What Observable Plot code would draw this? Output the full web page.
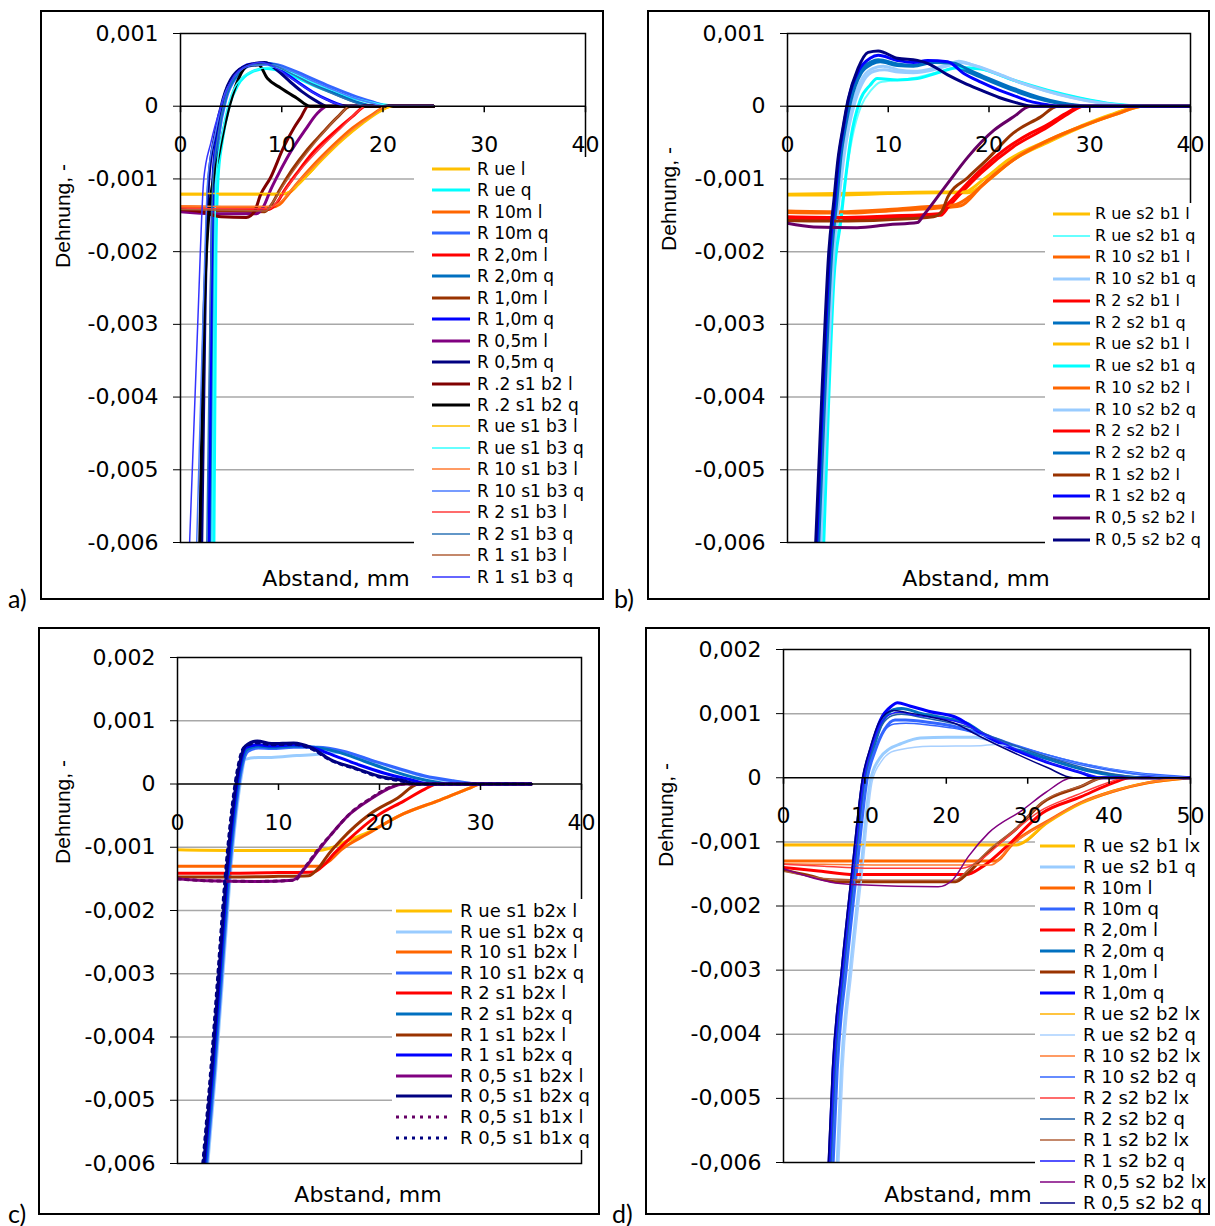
<!DOCTYPE html>
<html><head><meta charset="utf-8">
<script src="https://cdn.jsdelivr.net/npm/d3@7"></script>
<script src="https://cdn.jsdelivr.net/npm/@observablehq/plot@0.6"></script>
<style>
body{margin:0;background:#fff}
#page{position:relative;width:1215px;height:1226px;overflow:hidden;background:#fff}
</style></head>
<body><div id="page"></div>
<script>
// ---------- tick values ----------
const X_TICKS_40 = [0, 10, 20, 30, 40];
const X_TICKS_50 = [0, 10, 20, 30, 40, 50];
const Y_TICKS_AB = [0.001, 0, -0.001, -0.002, -0.003, -0.004, -0.005, -0.006];
const Y_TICKS_CD = [0.002, 0.001, 0, -0.001, -0.002, -0.003, -0.004, -0.005, -0.006];
const X_TITLE = "Abstand, mm";
const Y_TITLE = "Dehnung, -";

// ---------- panel a) : points are [Abstand mm, Dehnung in 1e-3] ----------
const A_NAMES = ["R ue l","R ue q","R 10m l","R 10m q","R 2,0m l","R 2,0m q","R 1,0m l","R 1,0m q","R 0,5m l","R 0,5m q","R .2 s1 b2 l","R .2 s1 b2 q","R ue s1 b3 l","R ue s1 b3 q","R 10 s1 b3 l","R 10 s1 b3 q","R 2 s1 b3 l","R 2 s1 b3 q","R 1 s1 b3 l","R 1 s1 b3 q"];
const A_POINTS = [
 [[0,-1.21],[5,-1.21],[10,-1.21],[10.8,-1.18],[11.6,-1.08],[12.5,-0.95],[14,-0.73],[16,-0.46],[18,-0.23],[19.8,-0.06],[20.8,0],[25,0]],
 [[3.3,-6],[3.4,-4],[3.5,-2],[3.7,-1],[4.1,-0.5],[4.8,0],[5.7,0.3],[7,0.47],[8.5,0.52],[10,0.48],[12,0.36],[14,0.24],[16,0.15],[18,0.08],[20,0.02],[21.3,0],[25,0]],
 [[0,-1.38],[5,-1.39],[9,-1.39],[9.8,-1.35],[10.6,-1.22],[11.6,-1.05],[13,-0.83],[15,-0.55],[17,-0.3],[19,-0.11],[20.5,0],[25,0]],
 [[3,-6],[3.2,-3],[3.4,-1],[3.8,-0.4],[4.5,0.1],[5.5,0.4],[7,0.56],[9,0.58],[11,0.5],[13,0.38],[15,0.26],[17,0.15],[19,0.06],[20.5,0],[25,0]],
 [[0,-1.42],[5,-1.42],[8.6,-1.42],[9.4,-1.35],[10.3,-1.15],[11.5,-0.92],[13,-0.65],[15,-0.38],[17,-0.14],[18.3,0],[25,0]],
 [[2.9,-6],[3.1,-3],[3.3,-1],[3.7,-0.4],[4.4,0.1],[5.4,0.4],[7,0.57],[8.5,0.59],[10.5,0.5],[12.5,0.36],[14.5,0.22],[16.5,0.1],[18.3,0.02],[19,0],[25,0]],
 [[0,-1.43],[5,-1.44],[8.3,-1.45],[9,-1.35],[9.8,-1.15],[11,-0.88],[12.5,-0.6],[14,-0.37],[15.5,-0.15],[16.8,0],[25,0]],
 [[2.8,-6],[3,-3],[3.2,-1],[3.6,-0.4],[4.3,0.12],[5.3,0.42],[7,0.58],[8.5,0.59],[10,0.48],[11.5,0.34],[13,0.2],[14.5,0.09],[16,0.01],[16.5,0],[25,0]],
 [[0,-1.45],[4,-1.48],[7.5,-1.48],[8.2,-1.38],[8.9,-1.15],[9.8,-0.9],[11,-0.6],[12.3,-0.33],[13.5,-0.1],[14.5,0],[25,0]],
 [[2.1,-6],[2.4,-3],[2.8,-1],[3.4,-0.4],[4.2,0.1],[5.2,0.42],[6.8,0.57],[8.3,0.6],[9.5,0.5],[10.8,0.34],[12,0.2],[13.3,0.08],[14.5,0],[25,0]],
 [[0,-1.42],[2,-1.45],[4,-1.52],[6.5,-1.53],[7.3,-1.45],[7.9,-1.22],[8.9,-0.98],[10.2,-0.56],[11.2,-0.3],[11.9,-0.15],[12.6,0],[25,0]],
 [[1.9,-6],[2.3,-3],[2.8,-1.5],[3.8,-0.65],[4.4,-0.24],[5.4,0.26],[6.7,0.56],[7.7,0.57],[8.6,0.38],[9.9,0.25],[11.5,0.11],[12.8,0],[25,0]],
 [[0,-1.2],[5,-1.2],[10.2,-1.2],[11,-1.15],[11.8,-1.05],[12.8,-0.92],[14.2,-0.7],[16.2,-0.44],[18.2,-0.21],[20,-0.05],[21,0],[25,0]],
 [[3.1,-6],[3.3,-3],[3.5,-1],[4.2,-0.3],[5,0.15],[6,0.38],[7.5,0.5],[9,0.54],[11,0.46],[13,0.33],[15,0.22],[17,0.12],[19,0.05],[21,0],[25,0]],
 [[0,-1.37],[5,-1.38],[9,-1.38],[10,-1.3],[11.5,-1.06],[13,-0.85],[15,-0.57],[17,-0.32],[19,-0.12],[20.3,0],[25,0]],
 [[1.6,-6],[2.2,-3],[2.7,-1],[3.4,-0.4],[4.2,0.1],[5.3,0.4],[7,0.56],[9,0.57],[11,0.48],[13,0.35],[15,0.23],[17,0.12],[19,0.04],[20.2,0],[25,0]],
 [[0,-1.4],[5,-1.41],[8.8,-1.41],[9.6,-1.3],[10.6,-1.1],[12,-0.85],[14,-0.55],[16,-0.28],[17.6,-0.06],[18.2,0],[25,0]],
 [[2.6,-6],[2.9,-3],[3.2,-1],[3.7,-0.4],[4.4,0.1],[5.4,0.42],[7,0.57],[8.5,0.58],[10.5,0.48],[12.5,0.33],[14.5,0.2],[16.5,0.09],[18.5,0],[25,0]],
 [[0,-1.42],[5,-1.43],[8.4,-1.44],[9.2,-1.3],[10.2,-1.08],[11.5,-0.82],[13,-0.55],[14.5,-0.3],[16,-0.08],[16.6,0],[25,0]],
 [[0.9,-6],[1.7,-3],[2.3,-1],[3,-0.5],[4,0],[5,0.35],[6.5,0.55],[8,0.6],[9.5,0.52],[11,0.38],[12.5,0.24],[14,0.12],[15.5,0.03],[16.3,0],[25,0]]
];

// ---------- panel b) ----------
const B_NAMES = ["R ue s2 b1 l","R ue s2 b1 q","R 10 s2 b1 l","R 10 s2 b1 q","R 2 s2 b1 l","R 2 s2 b1 q","R ue s2 b1 l","R ue s2 b1 q","R 10 s2 b2 l","R 10 s2 b2 q","R 2 s2 b2 l","R 2 s2 b2 q","R 1 s2 b2 l","R 1 s2 b2 q","R 0,5 s2 b2 l","R 0,5 s2 b2 q"];
const B_POINTS = [
 [[0,-1.22],[5,-1.22],[10,-1.2],[15,-1.19],[17.9,-1.19],[19.9,-1.02],[22.4,-0.74],[25.8,-0.5],[29.1,-0.29],[32.4,-0.12],[35.4,0],[40,0]],
 [[3.5,-6],[4,-4],[4.5,-2.4],[5.2,-1.55],[5.8,-0.95],[6.4,-0.45],[7.3,0],[8.3,0.22],[9.2,0.33],[11,0.36],[13,0.4],[15,0.47],[17,0.54],[19.5,0.5],[22.5,0.35],[26,0.21],[29.5,0.1],[32.5,0.03],[36,0],[40,0]],
 [[0,-1.46],[6.3,-1.47],[10,-1.44],[14,-1.41],[16,-1.39],[17.2,-1.37],[19.2,-1.11],[22.4,-0.74],[25.8,-0.48],[29.1,-0.28],[32.4,-0.11],[35,0],[40,0]],
 [[3.2,-6],[3.8,-4],[4.5,-2],[5,-1.3],[5.5,-0.7],[6,-0.25],[6.6,0.1],[7.5,0.4],[8.5,0.52],[9.5,0.55],[11,0.5],[12.5,0.48],[14.5,0.52],[16,0.58],[17,0.62],[18.5,0.56],[20.5,0.46],[23,0.33],[25.5,0.22],[28,0.13],[30.5,0.06],[33,0.01],[34,0],[40,0]],
 [[0,-1.54],[5,-1.55],[10,-1.53],[15.2,-1.5],[16,-1.38],[17.2,-1.2],[19.2,-0.92],[22.4,-0.56],[25.8,-0.29],[27.8,-0.11],[29.4,0],[40,0]],
 [[3,-6],[3.6,-4],[4.3,-2],[4.8,-1.3],[5.2,-0.7],[5.7,-0.25],[6.2,0.1],[7.2,0.48],[8.3,0.61],[9,0.64],[10.9,0.58],[12.5,0.56],[14,0.6],[16,0.6],[17.5,0.5],[19.5,0.38],[22,0.24],[24.5,0.12],[26.5,0.05],[28.5,0.01],[29.5,0],[40,0]],
 [[0,-1.21],[10,-1.19],[15,-1.18],[17.5,-1.18],[19.5,-1.0],[22,-0.73],[25.5,-0.49],[29,-0.28],[32,-0.12],[35.2,0],[40,0]],
 [[3.6,-6],[4.1,-4],[4.6,-2.4],[5.3,-1.57],[5.8,-0.95],[6.3,-0.43],[7.2,0.08],[8.2,0.29],[8.9,0.38],[10.9,0.36],[12.9,0.38],[14.9,0.46],[16.9,0.53],[19.2,0.51],[22.4,0.36],[25.8,0.22],[29.1,0.11],[32.4,0.03],[35.8,0],[40,0]],
 [[0,-1.44],[5,-1.45],[10,-1.42],[14,-1.38],[16.5,-1.36],[18,-1.25],[20,-1.0],[22.8,-0.7],[26,-0.46],[29.5,-0.26],[32.8,-0.1],[35.3,0],[40,0]],
 [[3.3,-6],[3.9,-4],[4.6,-2],[5.1,-1.3],[5.6,-0.7],[6.1,-0.28],[6.7,0.06],[7.6,0.36],[8.6,0.48],[9.6,0.5],[11,0.47],[12.5,0.46],[14.5,0.5],[16,0.56],[17.2,0.6],[18.8,0.55],[20.8,0.45],[23.2,0.32],[25.7,0.21],[28.2,0.12],[30.8,0.05],[33.2,0.01],[34.5,0],[40,0]],
 [[0,-1.52],[5,-1.53],[10,-1.51],[15,-1.48],[15.8,-1.36],[17.1,-1.17],[19,-0.9],[21.8,-0.57],[24,-0.38],[25.6,-0.27],[27.6,-0.1],[29.2,0],[40,0]],
 [[3.1,-6],[3.7,-4],[4.4,-2],[4.9,-1.3],[5.3,-0.7],[5.8,-0.25],[6.3,0.08],[7.3,0.45],[8.4,0.58],[9.2,0.61],[10.9,0.56],[12.5,0.55],[14.5,0.6],[16.5,0.59],[18,0.5],[20,0.38],[22.5,0.24],[25,0.12],[27,0.05],[29,0.01],[30,0],[40,0]],
 [[0,-1.57],[5,-1.58],[10,-1.56],[14.5,-1.52],[15.3,-1.45],[15.9,-1.25],[17.9,-0.98],[19.9,-0.72],[22.4,-0.37],[25.1,-0.15],[26.8,0],[40,0]],
 [[2.9,-6],[3.5,-4],[4.2,-2],[4.7,-1.3],[5.1,-0.7],[5.6,-0.25],[6.1,0.12],[7.1,0.5],[8.2,0.66],[9,0.7],[10.9,0.63],[12.5,0.6],[13.9,0.63],[15.9,0.61],[17.5,0.45],[19.2,0.33],[21,0.22],[22.4,0.15],[24,0.07],[25.8,0.02],[27,0],[40,0]],
 [[0,-1.61],[2.6,-1.66],[6.9,-1.67],[10,-1.63],[12.9,-1.6],[13.5,-1.5],[15.9,-1.06],[17.9,-0.7],[20.5,-0.33],[22.4,-0.15],[24.1,0],[40,0]],
 [[2.8,-6],[3.4,-4],[4.1,-2],[4.6,-1.3],[5,-0.74],[5.5,-0.3],[6,0.08],[7,0.52],[8,0.74],[9,0.76],[10.9,0.66],[12.9,0.63],[13.9,0.59],[15.9,0.43],[17.5,0.32],[19.2,0.22],[21,0.12],[22.4,0.06],[24.4,0],[40,0]]
];

// ---------- panel c) ----------
const C_NAMES = ["R ue s1 b2x l","R ue s1 b2x q","R 10 s1 b2x l","R 10 s1 b2x q","R 2 s1 b2x l","R 2 s1 b2x q","R 1 s1 b2x l","R 1 s1 b2x q","R 0,5 s1 b2x l","R 0,5 s1 b2x q","R 0,5 s1 b1x l","R 0,5 s1 b1x q"];
const C_POINTS = [
 [[0,-1.04],[5,-1.05],[10,-1.05],[14,-1.05],[15,-1.02],[16.5,-0.92],[18.8,-0.77],[22.4,-0.47],[25.7,-0.27],[29,-0.06],[30,0],[35,0]],
 [[3,-6],[3.8,-4.5],[4.5,-3],[5.2,-1.5],[5.8,-0.5],[6.3,0.1],[6.7,0.39],[8,0.42],[9.3,0.42],[11.8,0.45],[13.9,0.47],[15,0.5],[16.4,0.5],[19.1,0.37],[21.8,0.24],[24.4,0.12],[27.3,0.04],[30,0],[35,0]],
 [[0,-1.3],[5,-1.3],[10,-1.3],[14,-1.3],[15,-1.22],[16.2,-1.04],[18.8,-0.79],[22.4,-0.47],[25.7,-0.27],[29,-0.06],[30,0],[35,0]],
 [[2.9,-6],[3.7,-4.5],[4.4,-3],[5.1,-1.5],[5.7,-0.5],[6.3,0.2],[7,0.52],[8,0.57],[9.3,0.56],[11.5,0.58],[13.9,0.58],[16.4,0.52],[19.1,0.38],[21.8,0.25],[24.4,0.13],[27.3,0.05],[30,0],[35,0]],
 [[0,-1.41],[5,-1.41],[10,-1.4],[13.5,-1.39],[14.5,-1.28],[15.5,-1.1],[16.8,-0.9],[19.8,-0.5],[22.4,-0.27],[24.5,-0.08],[25.7,0],[35,0]],
 [[2.8,-6],[3.6,-4.5],[4.3,-3],[5,-1.5],[5.6,-0.5],[6.2,0.2],[6.9,0.55],[8,0.6],[9.3,0.58],[11.5,0.6],[13.5,0.58],[16,0.5],[18.5,0.36],[21,0.22],[23.5,0.1],[26,0.02],[27,0],[35,0]],
 [[0,-1.47],[5,-1.47],[10,-1.46],[13,-1.45],[14,-1.32],[15,-1.1],[16.1,-0.9],[19.1,-0.47],[21.8,-0.22],[23.9,0],[35,0]],
 [[2.7,-6],[3.5,-4.5],[4.2,-3],[4.9,-1.5],[5.5,-0.5],[6.1,0.2],[6.8,0.58],[8,0.62],[9.3,0.6],[11.5,0.62],[13.2,0.58],[15.5,0.45],[18,0.3],[20.5,0.17],[23,0.07],[25,0],[35,0]],
 [[0,-1.5],[3,-1.53],[8,-1.54],[11.4,-1.52],[12.5,-1.35],[14,-1.04],[15.1,-0.82],[17.1,-0.47],[19.1,-0.24],[20.8,-0.08],[22.4,0],[35,0]],
 [[2.6,-6],[3.4,-4.5],[4.1,-3],[4.8,-1.5],[5.4,-0.5],[6,0.2],[6.7,0.6],[7.9,0.68],[9.3,0.64],[11.5,0.65],[13.2,0.58],[15.1,0.39],[17.8,0.24],[19.8,0.13],[22.4,0.05],[23.7,0],[35,0]],
 [[0,-1.5],[3,-1.53],[8,-1.54],[11.6,-1.52],[12.6,-1.32],[14.1,-1.0],[15.2,-0.8],[17.2,-0.45],[19.2,-0.22],[20.9,-0.06],[22.5,0],[35,0]],
 [[2.5,-6],[3.3,-4.5],[4,-3],[4.7,-1.5],[5.3,-0.5],[5.9,0.2],[6.6,0.58],[7.9,0.65],[9.3,0.62],[11.5,0.63],[13.2,0.56],[15.1,0.38],[17.8,0.23],[19.8,0.12],[22.4,0.04],[23.8,0],[35,0]]
];

// ---------- panel d) ----------
const D_NAMES = ["R ue s2 b1 lx","R ue s2 b1 q","R 10m l","R 10m q","R 2,0m l","R 2,0m q","R 1,0m l","R 1,0m q","R ue s2 b2 lx","R ue s2 b2 q","R 10 s2 b2 lx","R 10 s2 b2 q","R 2 s2 b2 lx","R 2 s2 b2 q","R 1 s2 b2 lx","R 1 s2 b2 q","R 0,5 s2 b2 lx","R 0,5 s2 b2 q"];
const D_POINTS = [
 [[0,-1.05],[10,-1.05],[20,-1.05],[28.5,-1.05],[32.4,-0.7],[36.5,-0.4],[40.5,-0.21],[44.7,-0.08],[50,0]],
 [[6.6,-6],[7.1,-4.55],[8.2,-3],[9.5,-1.44],[10.7,-0.03],[11.8,0.3],[13,0.45],[14.4,0.53],[16.8,0.62],[20.1,0.63],[23.4,0.63],[25,0.6],[28,0.5],[32,0.36],[36,0.23],[40,0.13],[44,0.05],[48,0.01],[50,0]],
 [[0,-1.3],[10,-1.3],[20,-1.3],[26,-1.3],[28.3,-1.01],[32.4,-0.68],[36.5,-0.39],[40.5,-0.21],[44.7,-0.08],[50,0]],
 [[6.1,-6],[6.6,-4.55],[7.7,-3],[9,-1.44],[10.3,0],[11.2,0.4],[12.4,0.75],[13.7,0.9],[15,0.9],[18,0.86],[21,0.8],[24,0.7],[28,0.52],[32,0.36],[36,0.23],[40,0.13],[44,0.06],[48,0.02],[50,0]],
 [[0,-1.4],[4,-1.45],[8.8,-1.51],[15,-1.51],[22.4,-1.51],[24.4,-1.39],[27.6,-1.05],[31.8,-0.55],[36.5,-0.3],[40.5,-0.08],[42.6,0],[50,0]],
 [[5.9,-6],[6.4,-4.55],[7.5,-3],[8.8,-1.44],[10.1,0],[11,0.44],[12.2,0.88],[13.5,1.06],[14.5,1.08],[17,1.0],[20,0.93],[22.5,0.85],[25,0.65],[29,0.44],[33,0.27],[37,0.12],[41,0.03],[44,0],[50,0]],
 [[0,-1.44],[3,-1.52],[6.4,-1.62],[12,-1.62],[21.1,-1.62],[22.7,-1.48],[25.2,-1.15],[28.5,-0.81],[31.8,-0.39],[36.5,-0.14],[39.3,0],[50,0]],
 [[5.6,-6],[6.1,-4.55],[7.2,-3],[8.5,-1.44],[9.8,0],[10.7,0.44],[11.9,0.9],[13.3,1.12],[14,1.17],[15.5,1.12],[18.1,1.03],[21.4,0.93],[24.2,0.7],[28.3,0.44],[32.4,0.24],[36.5,0.08],[38.5,0],[50,0]],
 [[0,-1.04],[10,-1.04],[20,-1.04],[28.8,-1.04],[32.6,-0.69],[36.7,-0.39],[40.7,-0.2],[45,-0.07],[50,0]],
 [[6.8,-6],[7.3,-4.55],[8.4,-3],[9.7,-1.44],[10.9,-0.05],[12,0.25],[13.2,0.4],[14.4,0.44],[18.1,0.49],[24.2,0.5],[26,0.52],[29,0.46],[33,0.33],[37,0.21],[41,0.11],[45,0.04],[50,0]],
 [[0,-1.34],[5,-1.35],[12,-1.36],[20,-1.36],[25.5,-1.36],[28,-1.05],[32.2,-0.7],[36.3,-0.4],[40.3,-0.22],[44.5,-0.08],[50,0]],
 [[6,-6],[6.5,-4.55],[7.6,-3],[8.9,-1.44],[10.2,0],[11.1,0.4],[12.3,0.72],[13.6,0.84],[15,0.85],[18,0.82],[21,0.77],[24,0.68],[28,0.52],[32,0.37],[36,0.24],[40,0.13],[44,0.05],[48,0.01],[50,0]],
 [[0,-1.35],[5,-1.38],[10,-1.41],[22,-1.41],[24,-1.3],[27,-0.98],[31.5,-0.52],[36,-0.27],[40,-0.07],[42,0],[50,0]],
 [[5.8,-6],[6.3,-4.55],[7.4,-3],[8.7,-1.44],[10,0],[10.9,0.44],[12.1,0.82],[13.4,0.97],[14.5,0.99],[17,0.94],[20,0.87],[23,0.78],[26,0.62],[30,0.43],[34,0.26],[38,0.12],[42,0.03],[45,0],[50,0]],
 [[0,-1.46],[6,-1.58],[12,-1.6],[21,-1.6],[22.8,-1.42],[25.5,-1.1],[28.8,-0.76],[32,-0.36],[36.7,-0.12],[39.5,0],[50,0]],
 [[5.7,-6],[6.2,-4.55],[7.3,-3],[8.6,-1.44],[9.9,0],[10.8,0.45],[12,0.85],[13.3,1.0],[14.2,1.02],[16,0.98],[19,0.93],[22,0.85],[25,0.66],[29,0.42],[33,0.22],[37,0.07],[39.5,0],[50,0]],
 [[0,-1.42],[6.4,-1.64],[9.2,-1.67],[19,-1.7],[20.8,-1.59],[22.7,-1.23],[25.2,-0.86],[29.4,-0.5],[32.2,-0.23],[35.6,0],[50,0]],
 [[5.5,-6],[6,-4.55],[7.1,-3],[8.4,-1.44],[9.7,0],[10.6,0.45],[11.8,0.88],[13.5,1.05],[15,1.02],[18,0.95],[21,0.85],[24.2,0.64],[28.3,0.39],[32.4,0.16],[35.6,0],[50,0]]
];

// ---------- styles (kept apart from the data) ----------
const A_COLORS = ["#FFC000","#00FFFF","#FF6600","#3366FF","#FF0000","#0070C0","#993300","#0000FF","#800080","#000080","#800000","#000000","#FFC000","#33FFFF","#FF7A30","#4A7BFF","#FF3B3B","#2E75B6","#B0603A","#3333FF"];
const A_WIDTHS = [3,3,3,3,3,3,3,3,3,3,3,3,1.5,1.5,1.5,1.5,1.5,1.5,1.5,1.5];
const B_COLORS = ["#FFC000","#66FFFF","#FF6600","#99CCFF","#FF0000","#0070C0","#FFC000","#00FFFF","#FF6600","#99CCFF","#FF0000","#0070C0","#993300","#0000FF","#660066","#000080"];
const B_WIDTHS = [3,2,3,3,3,3,3,3,3,3,3,3,3,3,3,3];
const C_COLORS = ["#FFC000","#99CCFF","#FF6600","#3366FF","#FF0000","#0070C0","#993300","#0000FF","#800080","#000080","#660066","#000080"];
const C_WIDTHS = [3,3,3,3,3,3,3,3,3,3,3,3];
const C_DASHES = [null,null,null,null,null,null,null,null,null,null,"3,5","3,5"];
const D_COLORS = ["#FFC000","#99CCFF","#FF6600","#3366FF","#FF0000","#0070C0","#993300","#0000FF","#FFB000","#A8D0FF","#FF7A30","#3366FF","#FF3B3B","#1F5FA8","#B0603A","#1A1AFF","#800080","#000080"];
const D_WIDTHS = [3,3,3,3,3,3,3,3,1.5,1.5,1.5,1.5,1.5,1.5,1.5,1.5,1.5,1.5];

const FONT = "'DejaVu Sans', sans-serif";
const page = document.getElementById("page");

function div(style, text) {
  const d = document.createElement("div");
  Object.assign(d.style, {position: "absolute"}, style);
  if (text != null) d.textContent = text;
  page.appendChild(d);
  return d;
}

const tickDown = {draw(ctx) { ctx.moveTo(0, 0); ctx.lineTo(0, 6); }};
const fmt = (d) => d === 0 ? "0" : d.toFixed(3).replace(".", ",");

function panel(p) {
  const [fl, ft, fr, fb] = p.frame;
  const W = fr - fl, H = fb - ft;
  div({left: fl + "px", top: ft + "px", width: W + "px", height: H + "px", border: "2px solid #000", boxSizing: "border-box"});

  const grid = p.yTicks.filter((t, i) => t !== 0 && i !== 0 && i !== p.yTicks.length - 1);
  const marks = [
    Plot.ruleY(grid, {y: (d) => d, stroke: "#a8a8a8", strokeWidth: 1.5}),
  ];
  p.points.forEach((pts, i) => {
    const rows = pts.map(([x, v]) => ({x, y: v / 1000}));
    marks.push(Plot.line(rows, {
      x: "x", y: "y", stroke: p.colors[i], strokeWidth: p.widths[i],
      strokeDasharray: p.dashes ? p.dashes[i] : null,
      curve: "monotone-x", strokeLinejoin: "round", clip: true
    }));
  });
  marks.push(
    Plot.ruleY([0], {y: (d) => d, stroke: "#000", strokeWidth: 1.5}),
    Plot.frame({stroke: "#000", strokeWidth: 1.5}),
    Plot.dot(p.xTicks, {x: (d) => d, y: 0, symbol: tickDown, stroke: "#000", fill: "none", strokeWidth: 1.5}),
    Plot.axisY(p.yTicks, {tickFormat: fmt, tickSize: 7, tickPadding: 15, fontSize: 22, label: null, stroke: "#000"}),
    Plot.text(p.xTicks, {x: (d) => d, y: 0, dy: p.xLabelDy, text: (d) => String(d), fontSize: 22, fill: "#000"})
  );
  const svg = Plot.plot({
    width: W, height: H,
    marginLeft: p.plot[0] - fl, marginRight: fr - p.plot[1],
    marginTop: p.plot[2] - ft, marginBottom: fb - p.plot[3],
    x: {domain: p.xDomain, axis: null},
    y: {domain: p.yDomain},
    style: {fontFamily: FONT, fontSize: "22px", color: "#000", background: "transparent", overflow: "visible"},
    marks
  });
  Object.assign(svg.style, {position: "absolute", left: fl + "px", top: ft + "px"});
  page.appendChild(svg);

  // legend
  const [ll, lt, lr, lb] = p.legend.box;
  div({left: ll + "px", top: lt + "px", width: (lr - ll) + "px", height: (lb - lt) + "px", background: "#fff"});
  const svgNS = "http://www.w3.org/2000/svg";
  p.names.forEach((n, i) => {
    const cy = p.legend.first + i * p.legend.step;
    const s = document.createElementNS(svgNS, "svg");
    const w = p.legend.sw[1] - p.legend.sw[0];
    s.setAttribute("width", w); s.setAttribute("height", 10);
    Object.assign(s.style, {position: "absolute", left: p.legend.sw[0] + "px", top: (cy - 5) + "px"});
    const ln = document.createElementNS(svgNS, "line");
    ln.setAttribute("x1", 0); ln.setAttribute("x2", w); ln.setAttribute("y1", 5); ln.setAttribute("y2", 5);
    ln.setAttribute("stroke", p.colors[i]); ln.setAttribute("stroke-width", p.widths[i]);
    if (p.dashes && p.dashes[i]) ln.setAttribute("stroke-dasharray", p.dashes[i]);
    s.appendChild(ln);
    page.appendChild(s);
    div({left: p.legend.text + "px", top: cy + "px", transform: "translateY(-50%)", font: p.legend.font + "px " + FONT, lineHeight: "1", whiteSpace: "nowrap", color: "#000"}, n);
  });

  // titles
  div({left: p.xTitle[0] + "px", top: p.xTitle[1] + "px", transform: "translate(-50%,-50%)", font: "22px " + FONT, lineHeight: "1", whiteSpace: "nowrap"}, X_TITLE);
  div({left: p.yTitle[0] + "px", top: p.yTitle[1] + "px", transform: "translate(-50%,-50%) rotate(-90deg)", font: "21px 'Liberation Sans', Arial, sans-serif", lineHeight: "1", whiteSpace: "nowrap"}, Y_TITLE);
  div({left: p.letter[0] + "px", top: p.letter[1] + "px", transform: "translateY(-50%)", font: "25px Lato, 'Open Sans', sans-serif", lineHeight: "1"}, p.letter[2]);
}

panel({frame: [40, 10, 604, 600], plot: [180, 585, 33, 542], xDomain: [0, 40], yDomain: [-0.006, 0.001],
  xTicks: X_TICKS_40, yTicks: Y_TICKS_AB, xLabelDy: 39,
  names: A_NAMES, points: A_POINTS, colors: A_COLORS, widths: A_WIDTHS,
  legend: {box: [414, 157, 602, 590], first: 169, step: 21.45, sw: [432, 470], text: 477, font: 17},
  xTitle: [336, 579], yTitle: [62, 216], letter: [8, 598, "a)"]});

panel({frame: [647, 10, 1210, 600], plot: [787, 1190, 33, 542], xDomain: [0, 40], yDomain: [-0.006, 0.001],
  xTicks: X_TICKS_40, yTicks: Y_TICKS_AB, xLabelDy: 39,
  names: B_NAMES, points: B_POINTS, colors: B_COLORS, widths: B_WIDTHS,
  legend: {box: [1045, 203, 1208, 552], first: 214, step: 21.73, sw: [1053, 1090], text: 1095, font: 16},
  xTitle: [976, 579], yTitle: [668, 199], letter: [614, 598, "b)"]});

panel({frame: [38, 627, 600, 1215], plot: [177, 581, 657, 1163], xDomain: [0, 40], yDomain: [-0.006, 0.002],
  xTicks: X_TICKS_40, yTicks: Y_TICKS_CD, xLabelDy: 39,
  names: C_NAMES, points: C_POINTS, colors: C_COLORS, widths: C_WIDTHS, dashes: C_DASHES,
  legend: {box: [392, 899, 598, 1150], first: 911, step: 20.6, sw: [396, 452], text: 460, font: 18},
  xTitle: [368, 1195], yTitle: [62, 812], letter: [8, 1213, "c)"]});

panel({frame: [645, 627, 1210, 1215], plot: [783, 1190, 649, 1162], xDomain: [0, 50], yDomain: [-0.006, 0.002],
  xTicks: X_TICKS_50, yTicks: Y_TICKS_CD, xLabelDy: 38,
  names: D_NAMES, points: D_POINTS, colors: D_COLORS, widths: D_WIDTHS,
  legend: {box: [1035, 835, 1208, 1213], first: 846, step: 21.0, sw: [1040, 1075], text: 1083, font: 18},
  xTitle: [958, 1195], yTitle: [665, 815], letter: [612, 1213, "d)"]});
</script>
</body></html>
